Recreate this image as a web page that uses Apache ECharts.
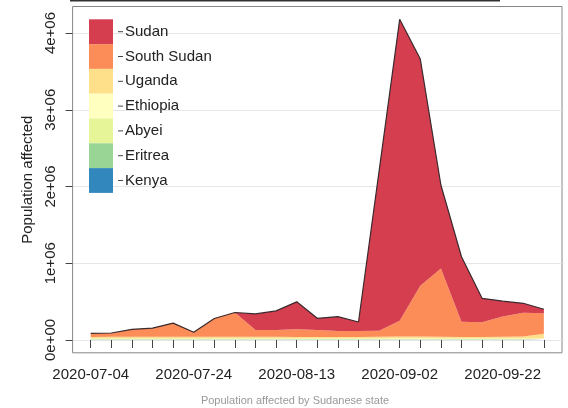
<!DOCTYPE html>
<html><head><meta charset="utf-8">
<script src="https://cdn.jsdelivr.net/npm/echarts@6/dist/echarts.min.js"></script>
<style>html,body{margin:0;padding:0;background:#fff}#c{width:568px;height:408px}</style>
</head><body><div id="c"></div>
<script>
// ---- data ----
const dates = ['2020-07-04','2020-07-08','2020-07-12','2020-07-16','2020-07-20','2020-07-24','2020-07-28',
  '2020-08-01','2020-08-05','2020-08-09','2020-08-13','2020-08-17','2020-08-21','2020-08-25','2020-08-29',
  '2020-09-02','2020-09-06','2020-09-10','2020-09-14','2020-09-18','2020-09-22','2020-09-26','2020-09-30'];
const xTickLabels = ['2020-07-04','2020-07-24','2020-08-13','2020-09-02','2020-09-22'];
const yTicks = [0, 1000000, 2000000, 3000000, 4000000];
const yTickLabels = ['0e+00','1e+06','2e+06','3e+06','4e+06'];

const kenya    = [2000,2000,2000,2000,2000,2000,2000,2000,2000,2000,2000,2000,2000,2000,2000,2000,2000,2000,2000,2000,2000,2000,2000];
const eritrea  = [3000,3000,3000,3000,3000,3000,3000,3000,3000,3000,3000,3000,3000,3000,3000,3000,3000,3000,3000,3000,3000,3000,3000];
const abyei    = [5000,5000,5000,5000,5000,5000,5000,5000,5000,5000,5000,5000,5000,5000,5000,5000,5000,5000,5000,5000,5000,5000,5000];
const ethiopia = [10000,10000,10000,10000,10000,10000,10000,10000,10000,10000,10000,10000,10000,10000,10000,11000,12000,10000,10000,10000,10000,10000,10000];
const uganda   = [20000,21000,22000,22000,23000,21000,22000,22000,21000,21000,20000,20000,20000,20000,21000,23000,24000,22000,20000,20000,21000,25000,60000];
const southSudan = [47000,50000,97000,113000,177000,60000,238000,316000,90000,90000,99000,90000,77000,77000,80000,205000,660000,888000,199000,190000,264000,311000,267000];
const sudan    = [0,0,0,0,0,0,0,0,209000,248000,358000,152000,187000,117000,2080000,3930000,2955000,1090000,846000,313000,201000,122000,53000];

const seriesNames = ['Kenya','Eritrea','Abyei','Ethiopia','Uganda','South Sudan','Sudan'];
const seriesValues = [kenya, eritrea, abyei, ethiopia, uganda, southSudan, sudan];
const colors = ['#3288bd','#99d594','#e6f598','#ffffbf','#fee08b','#fc8d59','#d53e4f'];

// ---- helpers ----
const DAY = 86400000;
function ts(s){const p=s.split('-');return Date.UTC(+p[0],+p[1]-1,+p[2]);}
function fmt(v){const d=new Date(Math.round(v/DAY)*DAY);
  return d.getUTCFullYear()+'-'+String(d.getUTCMonth()+1).padStart(2,'0')+'-'+String(d.getUTCDate()).padStart(2,'0');}
const xs = dates.map(ts);
const xSpan = xs[xs.length-1]-xs[0];
const xMin = xs[0]-0.04*xSpan, xMax = xs[xs.length-1]+0.04*xSpan;
const totals = dates.map((d,i)=>seriesValues.reduce((s,a)=>s+a[i],0));
const yTop = Math.max(...totals);
const yMin = -0.04*yTop, yMax = 1.04*yTop;

const FONT = 'Liberation Sans';
const chart = echarts.init(document.getElementById('c'), null, {renderer:'canvas'});
chart.setOption({
  animation:false,
  backgroundColor:'#fff',
  grid:{left:72.6, right:6, top:6.5, bottom:55.2, show:true, borderColor:'#888', borderWidth:1, backgroundColor:'transparent'},
  xAxis:{
    type:'value', min:xMin, max:xMax,
    axisLine:{show:false},
    axisTick:{show:true, length:8, lineStyle:{color:'#444'}, customValues:xs},
    axisLabel:{customValues:xTickLabels.map(ts), formatter:v=>fmt(v), fontSize:15, fontFamily:FONT, color:'#222', margin:15},
    splitLine:{show:false}
  },
  yAxis:{
    type:'value', min:yMin, max:yMax,
    name:'Population affected', nameLocation:'middle', nameGap:26,
    nameTextStyle:{fontSize:15, fontFamily:FONT, color:'#222'},
    axisLine:{show:false},
    axisTick:{show:true, length:7, lineStyle:{color:'#444'}, customValues:yTicks},
    axisLabel:{customValues:yTicks, rotate:90, margin:14, fontSize:15, fontFamily:FONT, color:'#222',
      formatter:v=>{const i=yTicks.indexOf(v);return i>=0?yTickLabels[i]:'';}},
    splitLine:{show:true, lineStyle:{color:'#e6e6e6', width:1}}
  },
  legend:{
    data:seriesNames.slice().reverse(), orient:'vertical', left:89, top:19.3,
    itemWidth:24, itemHeight:24.8, itemGap:0, icon:'rect', padding:0,
    formatter:n=>'{tk| }{nm|'+n+'}',
    textStyle:{fontSize:15, fontFamily:FONT, color:'#222',
      rich:{tk:{width:5, height:1, backgroundColor:'#444'}, nm:{fontSize:15, fontFamily:FONT, color:'#222', padding:[0,0,0,2]}}},
    selectedMode:false
  },
  series: seriesNames.map((n,k)=>({
    name:n, type:'line', stack:'total', showSymbol:false, symbol:'none',
    // value first so that the stacked dimension is y
    dimensions:['value','date'], encode:{x:1, y:0},
    data: xs.map((x,i)=>[seriesValues[k][i], x]),
    itemStyle:{color:colors[k]},
    lineStyle: n==='Sudan' ? {color:'#3a2a2e', width:1.2} : {width:0, opacity:0},
    areaStyle:{color:colors[k], opacity:1},
    emphasis:{disabled:true}, silent:true
  })),
  graphic:[
    {type:'line', shape:{x1:70, y1:0.8, x2:500, y2:0.8}, style:{stroke:'#333', lineWidth:1.6}, silent:true},
    {type:'text', x:295, y:401, style:{text:'Population affected by Sudanese state', fontSize:11, fontFamily:FONT, fill:'#999', align:'center', verticalAlign:'middle'}, silent:true}
  ]
});
</script></body></html>
